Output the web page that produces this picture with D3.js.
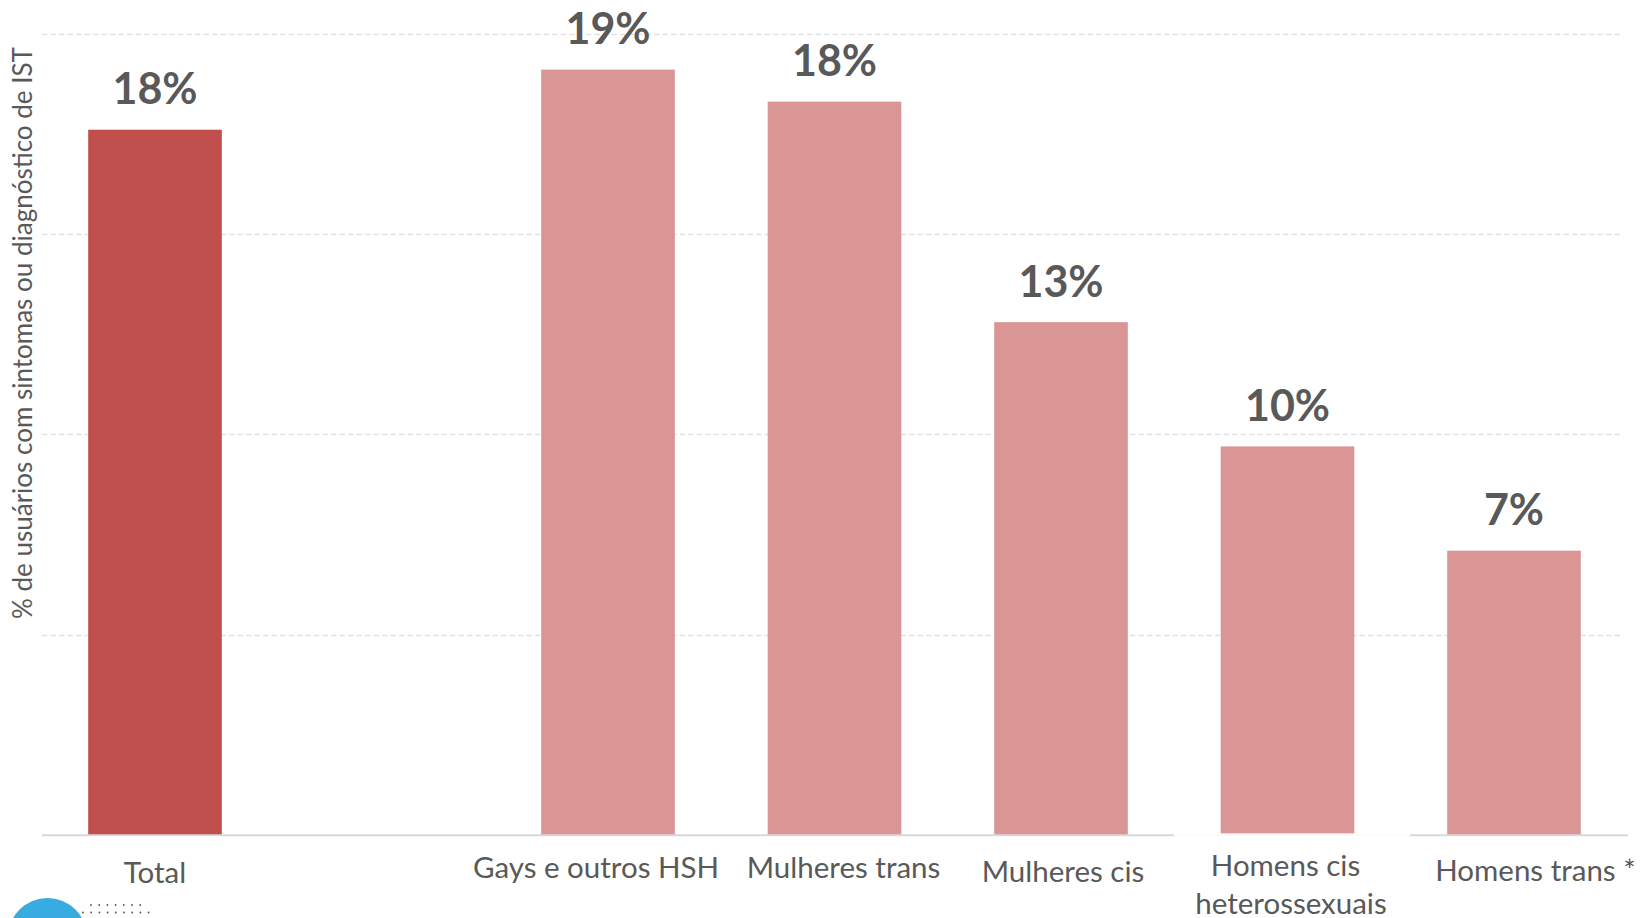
<!DOCTYPE html>
<html lang="pt">
<head>
<meta charset="utf-8">
<script src="https://cdn.jsdelivr.net/npm/d3@7"></script>
<style>
  html, body { margin: 0; padding: 0; background: #fff; }
  svg { display: block; font-family: Lato, "Open Sans", sans-serif; }
</style>
</head>
<body>
<svg id="chart" width="1644" height="918"></svg>
<script>
// Share of users reporting STI symptoms or diagnosis, by population group
const categories = ["Total", "", "Gays e outros HSH", "Mulheres trans", "Mulheres cis", "Homens cis heterossexuais", "Homens trans *"];
const labelLines = [["Total"], [], ["Gays e outros HSH"], ["Mulheres trans"], ["Mulheres cis"], ["Homens cis", "heterossexuais"], ["Homens trans *"]];
const values = [0.176, null, 0.191, 0.183, 0.128, 0.097, 0.071];
const yTicks = [0.05, 0.10, 0.15, 0.20];
const yTitle = "% de usuários com sintomas ou diagnóstico de IST";

const svg = d3.select("#chart");

const x = d3.scaleBand()
  .domain(categories)
  .range([41.75, 1627.25])
  .paddingInner(0.41)
  .paddingOuter(0.205);

const y = d3.scaleLinear()
  .domain([0, 0.20])
  .range([835.3, 33.5]);

const gridLeft = 42, gridRight = 1623, axisRight = 1628;

// dashed horizontal gridlines
svg.append("g")
  .selectAll("line")
  .data(yTicks)
  .join("line")
  .attr("x1", gridLeft)
  .attr("x2", gridRight)
  .attr("y1", d => Math.round(y(d)) + 0.5)
  .attr("y2", d => Math.round(y(d)) + 0.5)
  .attr("stroke", "#e1e1e1")
  .attr("stroke-width", 1.3)
  .attr("stroke-dasharray", "5.5,3");

// bars
const rows = categories.map((c, i) => ({ c, v: values[i], i })).filter(d => d.v != null);

svg.append("g")
  .selectAll("rect")
  .data(rows)
  .join("rect")
  .attr("x", d => x(d.c))
  .attr("width", x.bandwidth())
  .attr("y", d => y(d.v))
  .attr("height", d => y(0) - y(d.v))
  .attr("fill", d => d.i === 0 ? "#C0504D" : "#DA9694");

// value labels
const pct = d3.format(".0%");
svg.append("g")
  .selectAll("text")
  .data(rows)
  .join("text")
  .attr("x", d => x(d.c) + x.bandwidth() / 2)
  .attr("y", d => y(d.v) - 25.5)
  .attr("text-anchor", "middle")
  .attr("font-size", 43)
  .attr("font-weight", 700)
  .attr("fill", "#595959")
  .text(d => pct(d.v));

// baseline
const axis = d3.axisBottom(x).tickSize(0).tickFormat("");
const gAxis = svg.append("g")
  .attr("transform", `translate(0,${y(0)})`)
  .call(axis);
gAxis.select(".domain")
  .attr("d", `M${gridLeft},0H${axisRight}`)
  .attr("stroke", "#d9d9d9")
  .attr("stroke-width", 2);

// category labels (text boxes with their own offsets)
const labelDx = [[0], [], [-12], [9], [2], [-2, 3.5], [21.5]];
const labelBaseline = [883, 0, 878, 878, 881.5, 876, 881];
const lineGap = 37.5;

// white box behind the two-line label partly hides the baseline
svg.append("rect")
  .attr("x", 1174).attr("y", y(0) - 2)
  .attr("width", 236).attr("height", 4)
  .attr("fill", "#fff").attr("opacity", 0.88);

const gLabels = svg.append("g")
  .attr("font-size", 29.5)
  .attr("fill", "#595959")
  .attr("text-anchor", "middle");

categories.forEach((c, i) => {
  const lines = labelLines[i];
  if (!lines.length) return;
  const cx = x(c) + x.bandwidth() / 2;
  lines.forEach((t, k) => {
    gLabels.append("text")
      .attr("x", cx + labelDx[i][k])
      .attr("y", labelBaseline[i] + k * lineGap)
      .text(t);
  });
});

// y-axis title
svg.append("text")
  .attr("transform", `translate(31.5,333) rotate(-90)`)
  .attr("text-anchor", "middle")
  .attr("font-size", 26)
  .attr("fill", "#595959")
  .text(yTitle);

// corner mark: blue disc with a dotted grid
svg.append("circle")
  .attr("cx", 47.5).attr("cy", 937.5).attr("r", 39.5)
  .attr("fill", "#38ABE0");

const dotRows = [905, 912.5];
const dots = [];
dotRows.forEach((dy, r) => {
  const x0 = r === 0 ? 91 : 83;
  const x1 = r === 0 ? 147 : 155;
  d3.range(x0, x1 + 0.1, 8.2).forEach(dx => dots.push([dx, dy]));
});
svg.append("g")
  .selectAll("circle")
  .data(dots)
  .join("circle")
  .attr("cx", d => d[0]).attr("cy", d => d[1]).attr("r", 0.9)
  .attr("fill", "#555");
</script>
</body>
</html>
